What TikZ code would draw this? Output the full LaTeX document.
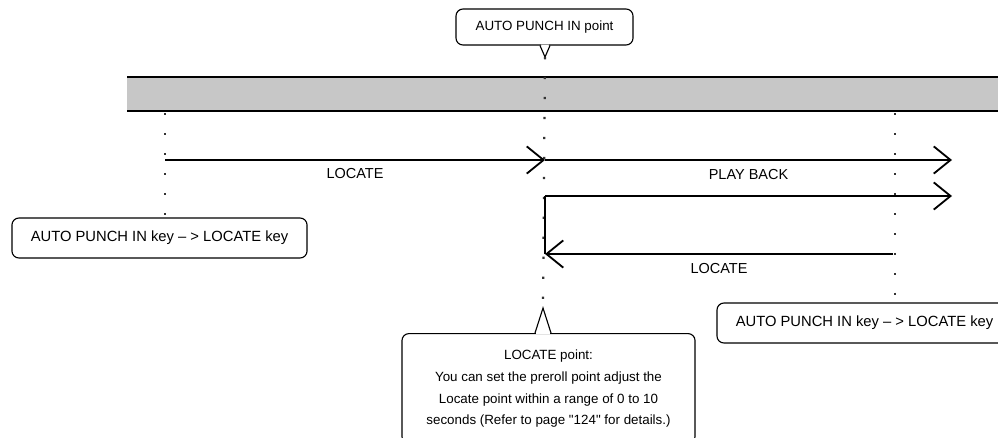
\documentclass[tikz,border=0pt]{standalone}
\usepackage{fontspec}
\setmainfont{Liberation Sans}
\usetikzlibrary{arrows.meta,calc}

\tikzset{
    flow/.style={line width=1.3pt, -{Straight Barb[length=0.42cm, width=0.68cm, line width=1.3pt]}},
    guide/.style={draw=black!80, line width=1.6pt, dash pattern=on 1.6pt off 12.6pt},
    keybox/.style={draw, line width=0.8pt, rounded corners=5pt, fill=white, inner sep=0pt,
        font=\fontsize{9.5}{15.6}\selectfont},
    lbl/.style={font=\fontsize{10.3}{12}\selectfont}
}

\begin{document}
\begin{tikzpicture}[x=0.025cm, y=-0.025cm]
    \useasboundingbox (0,0) rectangle (998,437);
    \clip (0,0) rectangle (998,437);

    % Tape bar
    \fill[black!22] (127,77) rectangle (1000,111);
    \draw[line width=1pt] (127,77) -- (1000,77);
    \draw[line width=1pt] (127,111) -- (1000,111);

    % Key boxes
    \node[keybox, font=\fontsize{10.5}{12}\selectfont, minimum width=7.375cm, minimum height=1cm] (leftbox) at (159.5,238) {AUTO PUNCH IN key -- > LOCATE key};
    \node[keybox, font=\fontsize{10.5}{12}\selectfont, minimum width=7.375cm, minimum height=1cm] (rightbox) at (864.5,323) {AUTO PUNCH IN key -- > LOCATE key};

    % Callouts
    \node[keybox, minimum width=4.425cm, minimum height=0.9cm] (punchbox) at (544.5,27) {AUTO PUNCH IN point};
    \coordinate (tipA) at (545,57);
    \node[keybox, anchor=north, align=center, minimum width=7.325cm, minimum height=2.75cm] (locbox) at (548.5,333)
        {LOCATE point:\\ You can set the preroll point adjust the\\ Locate point within a range of 0 to 10\\ seconds (Refer to page \textquotedbl 124\textquotedbl\ for details.)};
    \coordinate (tipB) at (543,308);

    % Pointers
    \fill[white] ($(tipA |- punchbox.south)+(-4,-1)$) -- ($(tipA |- punchbox.south)+(4,-1)$) -- (tipA) -- cycle;
    \draw[line width=0.8pt] ($(tipA |- punchbox.south)+(-5,0)$) -- (tipA) -- ($(tipA |- punchbox.south)+(5,0)$);
    \fill[white] ($(tipB |- locbox.north)+(-7,1)$) -- ($(tipB |- locbox.north)+(7,1)$) -- (tipB) -- cycle;
    \draw[line width=0.8pt] ($(tipB |- locbox.north)+(-8,0)$) -- (tipB) -- ($(tipB |- locbox.north)+(8,0)$);

    % Guides
    \coordinate (leftg) at (165,113);
    \coordinate (rightg) at (895,113);
    \draw[guide] (leftg) -- (leftg |- leftbox.north);
    \draw[guide] (tipA) -- (tipB);
    \draw[guide] (rightg) -- (rightg |- rightbox.north);

    % Locate and play back
    \coordinate (startL) at (165,160);
    \coordinate (punch) at (545,160);
    \coordinate (endP) at (952,160);
    \coordinate (turn) at (545,196);
    \coordinate (endR) at (952,196);
    \coordinate (back) at (545,254);
    \coordinate (stop) at (893,254);

    \draw[flow] (startL) -- (punch) node[lbl, midway, below=2pt] (locA) {LOCATE};
    \draw[flow] (punch) -- (endP) node[lbl, midway, below=3pt] (play) {PLAY BACK};
    \draw[flow, -] (back) -- (turn);
    \draw[flow] (turn) -- (endR);
    \draw[flow] (stop) -- (back) node[lbl, midway, below=3pt] (locB) {LOCATE};
\end{tikzpicture}
\end{document}
